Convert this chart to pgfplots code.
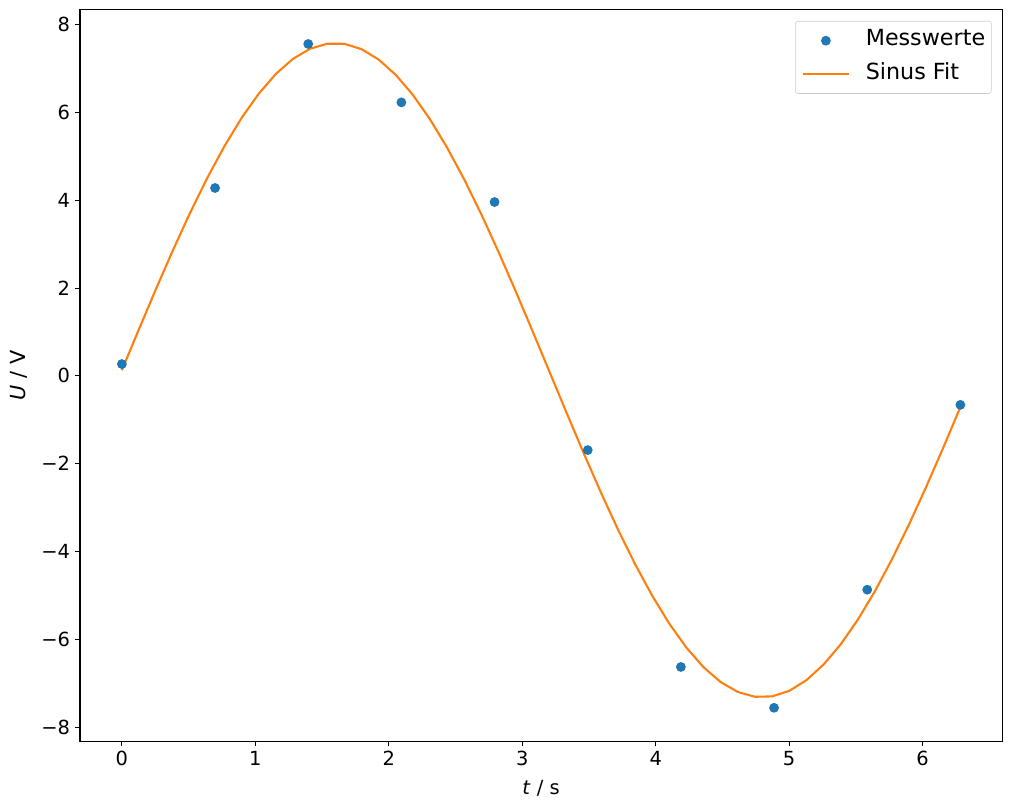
\documentclass[border=0pt]{standalone}
\usepackage{fontspec}
\setmainfont{DejaVu Sans}
\usepackage{pgfplots}
\pgfplotsset{compat=1.18}
\definecolor{mplblue}{HTML}{1F77B4}
\definecolor{mplorange}{HTML}{FF7F0E}
\pgfplotsset{
    dotlegend/.style={legend image code/.code={%
        \draw[mark repeat=2,mark phase=2,##1,fill opacity=1,draw opacity=1] plot coordinates {(0bp,0bp)(16.8bp,0bp)(33.6bp,0bp)};}},
    linelegend/.style={legend image code/.code={%
        \draw[##1,draw opacity=1] (0bp,0bp) -- (33.6bp,0bp);}},
}
\begin{document}
\fontsize{14bp}{17bp}\selectfont
\begin{tikzpicture}
\useasboundingbox (-57.6bp,-50.2bp) rectangle (670.4bp,533.7bp);
\begin{axis}[
    at={(0,0)}, anchor=south west,
    scale only axis,
    width=664.1bp, height=527bp,
    xmin=-0.314, xmax=6.597,
    ymin=-8.32, ymax=8.35,
    xtick={0,1,2,3,4,5,6},
    xticklabels={0,1,2,3,4,5,6},
    ytick={-8,-6,-4,-2,0,2,4,6,8},
    yticklabels={−8,−6,−4,−2,0,2,4,6,8},
    tick align=outside,
    tick pos=left,
    major tick length=3.5bp,
    every tick/.style={black, line width=0.8bp},
    axis line style={line width=0.8bp},
    tick label style={font=\fontsize{14bp}{17bp}\selectfont},
    xticklabel style={inner sep=0pt, anchor=north, yshift=-3.5bp},
    yticklabel style={inner sep=0pt, anchor=east, xshift=-3.5bp},
    xlabel={\textit{t} / s},
    ylabel={\textit{U} / V},
    xlabel style={at={(axis description cs:0.5,-0.0734)}, anchor=base, inner sep=0pt,
        font=\fontsize{14bp}{17bp}\selectfont},
    ylabel style={at={(axis description cs:-0.0586,0.5)}, anchor=base, inner sep=0pt,
        font=\fontsize{15bp}{18bp}\selectfont},
    legend cell align=left,
    legend style={
        at={(axis description cs:1,1)}, anchor=north east,
        xshift=-7.6bp, yshift=-8.4bp,
        draw=black!20, rounded corners=2bp,
        fill=white, fill opacity=0.8, text opacity=1,
        font=\fontsize{16bp}{19bp}\selectfont,
        inner xsep=4.5bp, inner ysep=6.1bp,
        row sep=7.6bp, column sep=11.2bp,
        nodes={inner sep=0pt, text depth=4.2bp},
    },
]
\addplot[only marks, mark=*, mark size=3bp, color=mplblue,
    mark options={fill=mplblue, draw=mplblue, line width=1bp}, dotlegend]
    coordinates {
    (0.0000,0.27) (0.6981,4.28) (1.3963,7.56) (2.0944,6.23) (2.7925,3.96)
    (3.4907,-1.69) (4.1888,-6.63) (4.8869,-7.56) (5.5851,-4.87) (6.2832,-0.66)
    };
\addplot[mplorange, line width=1.5bp, mark=none, linelegend]
    coordinates {
    (0.0000,0.130) (0.1282,1.066) (0.2565,1.987) (0.3847,2.878) (0.5129,3.726)
    (0.6411,4.517) (0.7694,5.237) (0.8976,5.879) (1.0258,6.428) (1.1541,6.879)
    (1.2823,7.222) (1.4105,7.452) (1.5387,7.566) (1.6670,7.564) (1.7952,7.443)
    (1.9234,7.207) (2.0516,6.859) (2.1799,6.403) (2.3081,5.848) (2.4363,5.203)
    (2.5646,4.478) (2.6928,3.683) (2.8210,2.833) (2.9492,1.940) (3.0775,1.018)
    (3.2057,0.082) (3.3339,-0.853) (3.4622,-1.773) (3.5904,-2.662) (3.7186,-3.507)
    (3.8468,-4.295) (3.9751,-5.012) (4.1033,-5.649) (4.2315,-6.195) (4.3598,-6.640)
    (4.4880,-6.976) (4.6162,-7.201) (4.7444,-7.309) (4.8727,-7.300) (5.0009,-7.174)
    (5.1291,-6.931) (5.2574,-6.576) (5.3856,-6.117) (5.5138,-5.557) (5.6420,-4.908)
    (5.7703,-4.178) (5.8985,-3.382) (6.0267,-2.529) (6.1550,-1.634) (6.2832,-0.711)
    };
\legend{Messwerte\hspace{3.3bp}, Sinus Fit}
\end{axis}
\end{tikzpicture}
\end{document}
